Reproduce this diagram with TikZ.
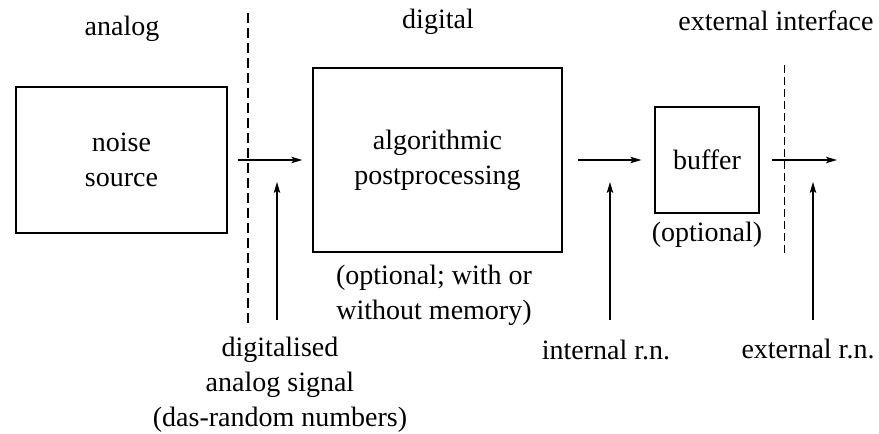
\documentclass[tikz,border=0pt]{standalone}
\usepackage{fontspec}
\setmainfont{Liberation Serif}
\usetikzlibrary{arrows.meta}
\begin{document}
\begin{tikzpicture}[x=1pt,y=1pt,
  txt/.style={font=\fontsize{28}{35}\selectfont, align=center, inner sep=0pt},
  blk/.style={draw, line width=1.4pt, txt},
  conn/.style={line width=1.1pt, -{Stealth[length=11pt,width=6.5pt,inset=2.5pt]}},
  sep/.style={line width=1.1pt, dash pattern=on 10pt off 5pt},
  sepb/.style={line width=1pt, dash pattern=on 8pt off 4pt}]
\useasboundingbox (0,0) rectangle (879,-434);
% boxes
\node[blk, minimum width=211pt, minimum height=146pt] (noise) at (121.5,-160) {noise\\source};
\node[blk, minimum width=249pt, minimum height=184pt] (algo) at (437.5,-160) {algorithmic\\postprocessing};
\node[blk, minimum width=104pt, minimum height=106pt] (buf) at (707,-160) {buffer};
% headings
\node[txt, anchor=base] (hanalog) at (122,-35) {analog};
\node[txt, anchor=base] (hdigital) at (438,-28) {digital};
\node[txt, anchor=base] (hext) at (776,-30) {external interface};
% annotations
\node[txt] (algonote) at (434,-295) {(optional; with or\\without memory)};
\node[txt] (bufnote) at (707,-235) {(optional)};
\node[txt] (das) at (280,-385) {digitalised\\analog signal\\(das-random numbers)};
\node[txt, anchor=base] (irn) at (606,-359) {internal r.n.};
\node[txt, anchor=base] (ern) at (808,-358) {external r.n.};
% separators
\coordinate (s1t) at (248,-13);
\coordinate (s1b) at (248,-323);
\coordinate (s2t) at (784,-65);
\coordinate (s2b) at (784,-253);
\draw[sep] (s1t) -- (s1b);
\draw[sepb] (s2t) -- (s2b);
% main flow
\coordinate (out) at (837,-160);
\draw[conn, shorten <=10pt, shorten >=10pt] (noise.east) -- (algo.west);
\draw[conn, shorten <=15pt, shorten >=13pt] (algo.east) -- (buf.west);
\draw[conn, shorten <=12pt] (buf.east) -- (out);
% vertical arrows
\coordinate (v1b) at (277,-320);
\coordinate (v1t) at (277,-182);
\coordinate (v2b) at (610,-320);
\coordinate (v2t) at (610,-182);
\coordinate (v3b) at (813,-320);
\coordinate (v3t) at (813,-182);
\draw[conn] (v1b) -- (v1t);
\draw[conn] (v2b) -- (v2t);
\draw[conn] (v3b) -- (v3t);
\end{tikzpicture}
\end{document}
